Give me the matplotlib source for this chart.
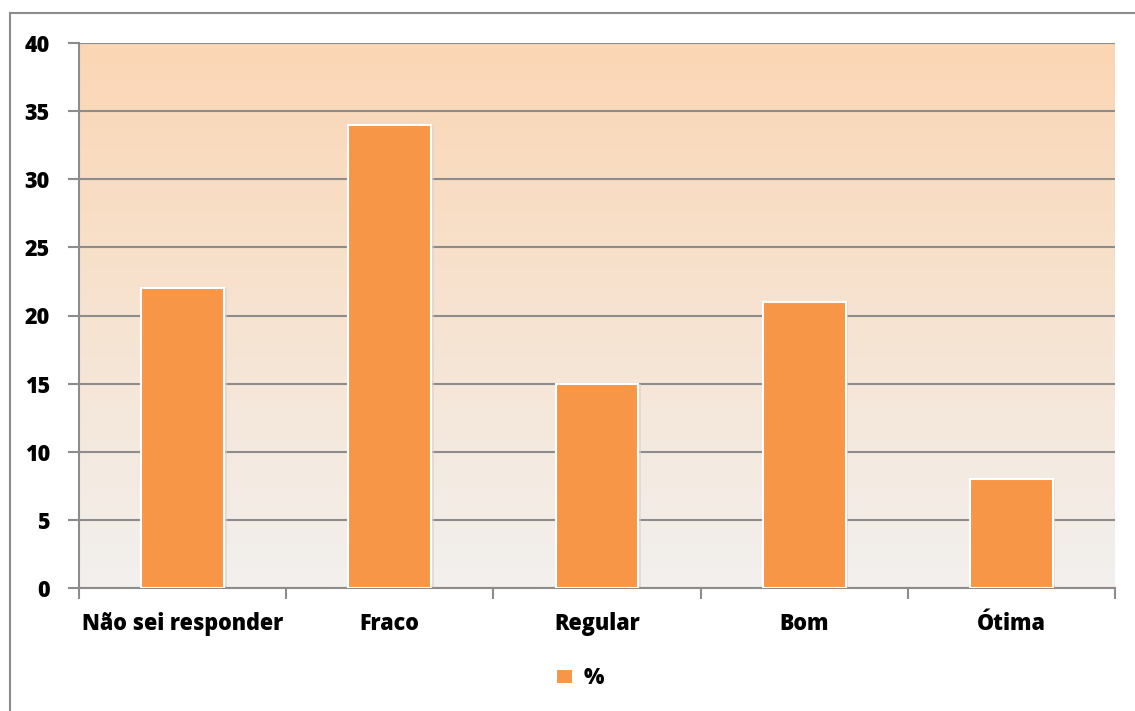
import numpy as np
import matplotlib
matplotlib.use('Agg')
from matplotlib import pyplot as plt
from matplotlib.patches import Rectangle

categorias = ['Não sei responder', 'Fraco', 'Regular', 'Bom', 'Ótima']
percentuais = [22, 34, 15, 21, 8]
yticks = [0, 5, 10, 15, 20, 25, 30, 35, 40]

plt.rcParams['font.family'] = ['Open Sans', 'DejaVu Sans']
plt.rcParams['font.weight'] = 'heavy'

W, H = 1135, 711
fig = plt.figure(figsize=(W / 100, H / 100), dpi=100)
ax = fig.add_axes([79 / W, 1 - 588 / H, (1115 - 79) / W, (588 - 43) / H])

# moldura externa do grafico
fig.patches.append(Rectangle((10 / W, -0.1), 1.2, 1 - 13 / H + 0.1, transform=fig.transFigure,
                             fill=False, edgecolor='#8c8c8c', linewidth=1.5))

x = np.arange(len(categorias))
ax.set_xlim(-0.5, len(categorias) - 0.5)
ax.set_ylim(0, 40)

# fundo em degrade (cinza claro embaixo, pessego em cima)
base = np.array([242, 240, 238]) / 255
topo = np.array([251, 214, 180]) / 255
t = np.linspace(0, 1, 256)[:, None]
grad = (base * (1 - t) + topo * t)[:, None, :]
ax.imshow(grad, extent=[-0.5, len(categorias) - 0.5, 0, 40], origin='lower',
          aspect='auto', zorder=0)

ax.set_yticks(yticks)
ax.yaxis.grid(True, color='#8c8c8c', linewidth=1.5, zorder=1)
ax.set_axisbelow(True)

# sombra leve e barras
ax.bar(x + 0.012, percentuais, width=0.4, color='#d9d0c8', zorder=2, alpha=0.6)
ax.bar(x, percentuais, width=0.4, color='#F79646', edgecolor='white',
       linewidth=1.5, zorder=3, label='%')

ax.set_xticks(x)
ax.set_xticklabels(categorias)
ax.set_xticks(np.arange(-0.5, len(categorias)), minor=True)
ax.tick_params(axis='x', which='major', length=0, pad=17, labelsize=15.5)
ax.tick_params(axis='x', which='minor', length=8, color='#8c8c8c', width=1.5)
ax.tick_params(axis='y', length=8, color='#8c8c8c', width=1.5, pad=13, labelsize=15.5)

for s in ['top', 'right']:
    ax.spines[s].set_visible(False)
for s in ['left', 'bottom']:
    ax.spines[s].set_color('#8c8c8c')
    ax.spines[s].set_linewidth(1.5)

leg = fig.legend(loc='center', bbox_to_anchor=(580 / W, 1 - 678 / H), frameon=False,
                 fontsize=15.5, handlelength=0.75, handleheight=0.75, handletextpad=0.5)

fig.savefig('out.png', dpi=100)
